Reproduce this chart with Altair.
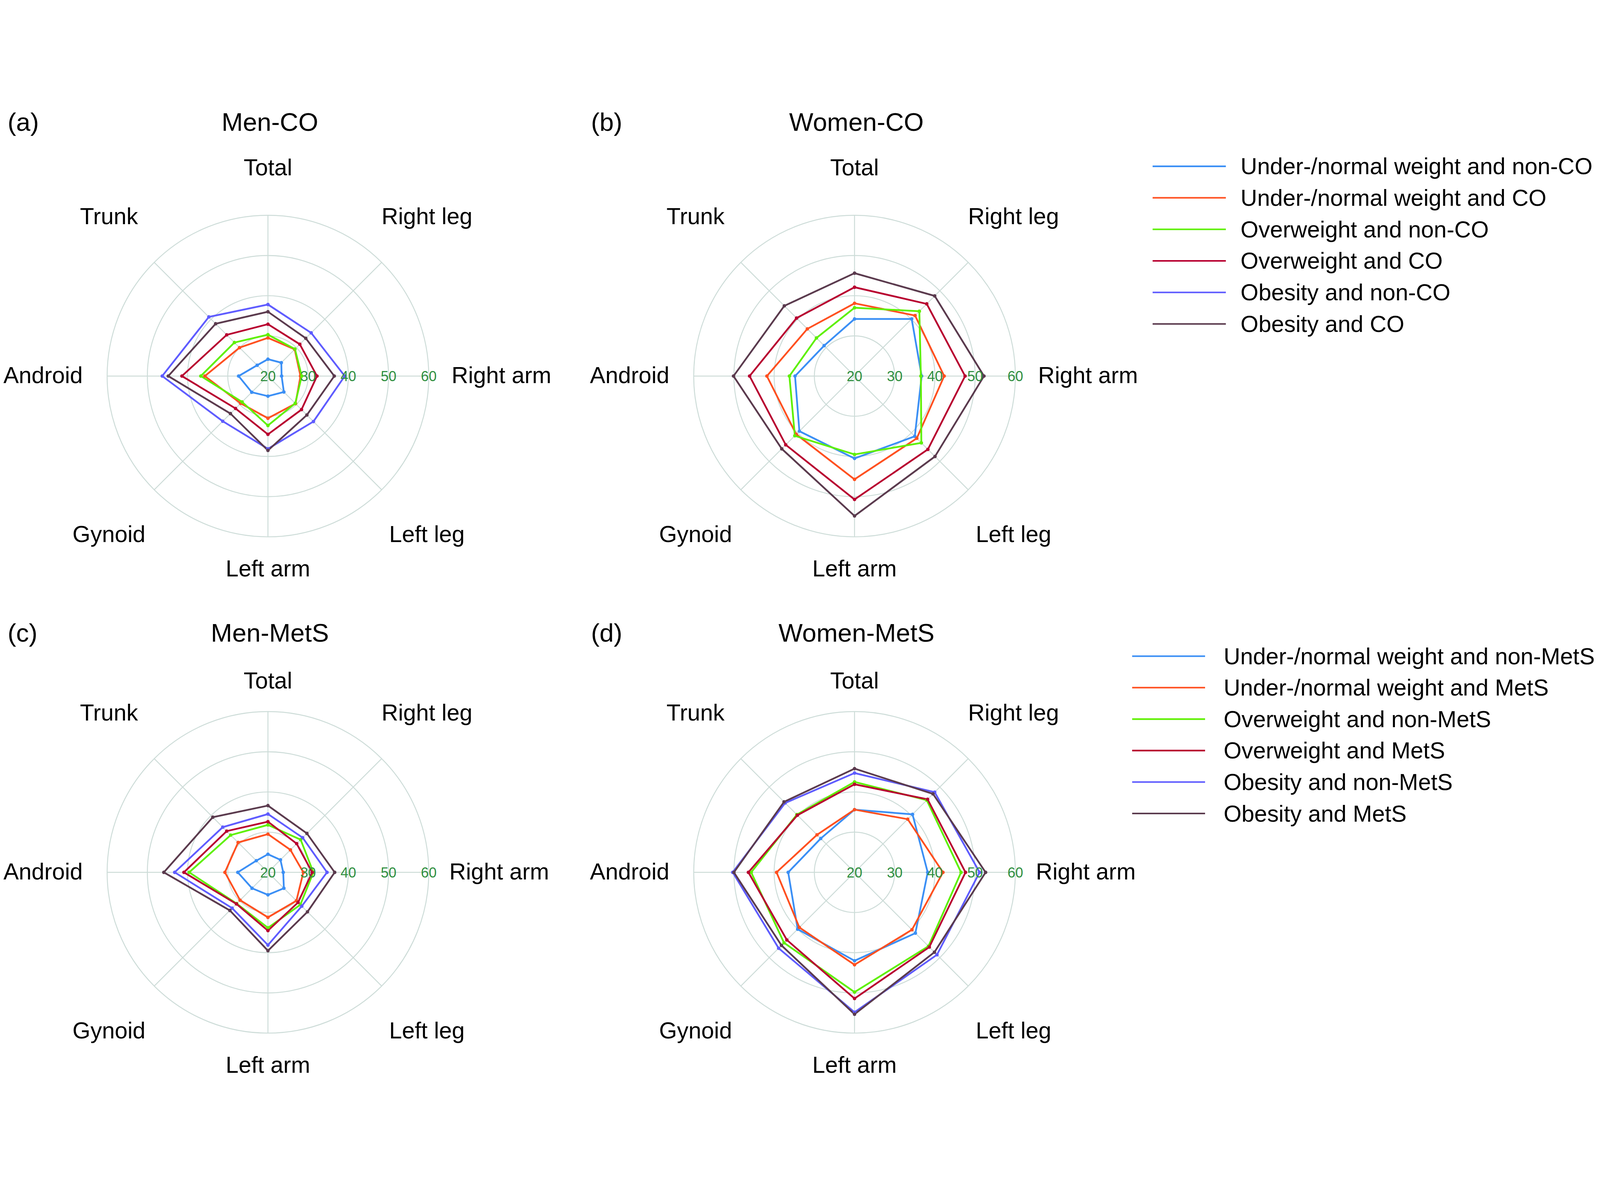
import math
import altair as alt
import pandas as pd

# ---------------- data ----------------
AXES = ["Total", "Right leg", "Right arm", "Left leg", "Left arm", "Gynoid", "Android", "Trunk"]
TICKS = [20, 30, 40, 50, 60]

NAMES_CO = ["Under-/normal weight and non-CO", "Under-/normal weight and CO",
            "Overweight and non-CO", "Overweight and CO",
            "Obesity and non-CO", "Obesity and CO"]
NAMES_METS = ["Under-/normal weight and non-MetS", "Under-/normal weight and MetS",
              "Overweight and non-MetS", "Overweight and MetS",
              "Obesity and non-MetS", "Obesity and MetS"]

# values in axis order: Total, Right leg, Right arm, Left leg, Left arm, Gynoid, Android, Trunk
men_co = [
    [24.2, 24.7, 23.4, 25.6, 25.0, 25.7, 27.3, 23.8],
    [29.5, 29.4, 28.1, 29.7, 30.5, 29.6, 35.7, 30.0],
    [30.3, 29.5, 28.4, 29.6, 32.3, 29.1, 36.7, 31.8],
    [32.9, 31.2, 32.2, 31.8, 34.5, 31.4, 41.4, 34.5],
    [37.8, 35.2, 39.1, 36.0, 38.1, 35.9, 46.3, 40.8],
    [36.0, 33.3, 36.5, 33.7, 38.5, 33.2, 44.8, 38.4],
]
women_co = [
    [34.2, 40.1, 36.7, 41.2, 40.5, 39.4, 34.8, 30.7],
    [38.1, 41.3, 42.3, 41.9, 45.7, 40.5, 41.8, 36.6],
    [37.0, 42.8, 36.5, 43.5, 39.5, 41.0, 36.2, 33.4],
    [42.1, 45.4, 47.5, 45.8, 50.7, 44.2, 46.1, 40.4],
    None,
    [45.6, 48.2, 52.2, 48.3, 54.8, 45.6, 50.1, 44.7],
]
men_mets = [
    [24.5, 24.4, 23.8, 25.6, 25.6, 25.6, 27.5, 24.1],
    [29.5, 27.9, 28.8, 30.0, 31.2, 29.8, 30.7, 30.5],
    [31.8, 31.5, 31.3, 31.4, 33.8, 31.0, 39.6, 33.1],
    [32.6, 30.1, 31.0, 30.6, 34.5, 31.1, 40.9, 34.5],
    [34.5, 32.2, 34.7, 31.9, 38.1, 32.6, 43.2, 35.9],
    [36.6, 33.7, 36.6, 33.9, 39.5, 33.4, 45.9, 39.4],
]
women_mets = [
    [35.6, 40.4, 38.2, 41.4, 42.0, 40.0, 36.5, 31.9],
    [35.6, 38.7, 42.0, 40.2, 43.0, 39.4, 39.4, 33.2],
    [42.5, 45.4, 46.5, 46.0, 49.8, 44.8, 45.7, 40.3],
    [41.9, 45.7, 47.6, 46.3, 51.4, 43.8, 46.4, 40.1],
    [44.7, 48.2, 51.1, 49.0, 54.8, 46.7, 50.3, 44.4],
    [45.8, 47.6, 52.6, 48.1, 55.3, 45.7, 50.0, 44.8],
]

# ---------------- style ----------------
COLORS = ["#3b8ff5", "#ff5020", "#5ef000", "#b80030", "#5f5cff", "#5b3b4e"]
WIDTHS = [5.5, 5.5, 7.5, 5.5, 5.5, 5.5]
GRID = "#cddcd8"
TICKCOL = "#2f8f3f"
FONT = "Liberation Sans"
K = 502.8 / (TICKS[-1] - TICKS[0])     # pixels per unit of radius
LO = TICKS[0]
SPAN = TICKS[-1] - TICKS[0]

W1, W2, W3 = 1820, 1672, 1486
H1, H2 = 1552, 1474
DIAG = 703
LABEL_R_ROW1 = [650, DIAG, 574, DIAG, 605, DIAG, 579, DIAG]
LABEL_R_ROW2 = [597, DIAG, 567, DIAG, 605, DIAG, 579, DIAG]
LABEL_ALIGN = ["center", "center", "left", "center", "center", "center", "right", "center"]


def series_df(values, names):
    rows = []
    for s, vals in enumerate(values):
        if vals is None:
            continue
        for i in range(len(AXES) + 1):
            rows.append({"series": names[s], "sidx": s, "idx": i,
                         "axis": AXES[i % len(AXES)], "value": vals[i % len(AXES)]})
    return pd.DataFrame(rows)


def panel(values, names, letter, title, W, H, cx, cy, label_r, title_y, letter_x):
    xs = alt.Scale(domain=[-cx / K, (W - cx) / K], nice=False, zero=False)
    ys = alt.Scale(domain=[-(H - cy) / K, cy / K], nice=False, zero=False)
    color = alt.Color("series:N", scale=alt.Scale(domain=names, range=COLORS), legend=None)

    # rings (circle symbols whose diameter follows the radial unit)
    rings = pd.DataFrame({"rr": [t - LO for t in TICKS[1:]], "zero": 0.0})
    ring_layer = alt.Chart(rings).transform_calculate(
        sz=f"pow(2*datum.rr*{K}, 2)"
    ).mark_point(shape="circle", filled=False, color=GRID, strokeWidth=3, opacity=1).encode(
        x=alt.X("zero:Q", scale=xs, axis=None),
        y=alt.Y("zero:Q", scale=ys, axis=None),
        size=alt.Size("sz:Q", scale=None),
    )

    # spokes
    spokes = pd.DataFrame({"idx": list(range(len(AXES))), "zero": 0.0})
    spoke_layer = alt.Chart(spokes).transform_calculate(
        ex=f"{SPAN}*sin(datum.idx*PI/4)", ey=f"{SPAN}*cos(datum.idx*PI/4)"
    ).mark_rule(color=GRID, strokeWidth=3).encode(
        x=alt.X("zero:Q", scale=xs, axis=None),
        y=alt.Y("zero:Q", scale=ys, axis=None),
        x2="ex:Q", y2="ey:Q",
    )

    df = series_df(values, names)
    base = alt.Chart(df).transform_calculate(
        px=f"(datum.value-{LO})*sin(datum.idx*PI/4)",
        py=f"(datum.value-{LO})*cos(datum.idx*PI/4)",
    )
    line_layer = base.mark_line(strokeJoin="round").encode(
        x=alt.X("px:Q", scale=xs, axis=None),
        y=alt.Y("py:Q", scale=ys, axis=None),
        color=color,
        strokeWidth=alt.StrokeWidth("series:N", scale=alt.Scale(domain=names, range=WIDTHS), legend=None),
        order="idx:Q",
    )
    point_layer = base.transform_filter("datum.idx < 8").mark_point(
        filled=True, size=120, opacity=1, shape="circle"
    ).encode(
        x=alt.X("px:Q", scale=xs, axis=None),
        y=alt.Y("py:Q", scale=ys, axis=None),
        color=color,
    )

    # radial tick labels along the right-arm axis
    ticks = pd.DataFrame({"t": TICKS, "zero": 0.0})
    tick_layer = alt.Chart(ticks).transform_calculate(
        tx=f"datum.t-{LO}", lab="''+datum.t"
    ).mark_text(font=FONT, fontSize=44, color=TICKCOL, align="center", baseline="middle", dy=3).encode(
        x=alt.X("tx:Q", scale=xs, axis=None),
        y=alt.Y("zero:Q", scale=ys, axis=None),
        text="lab:N",
    )

    # axis labels
    lab_df = pd.DataFrame({"axis": AXES, "idx": list(range(len(AXES))),
                           "lr": [r / K for r in label_r], "al": LABEL_ALIGN})
    label_layers = []
    for al in ["center", "left", "right"]:
        label_layers.append(
            alt.Chart(lab_df).transform_filter(f"datum.al == '{al}'").transform_calculate(
                lx="datum.lr*sin(datum.idx*PI/4)", ly="datum.lr*cos(datum.idx*PI/4)"
            ).mark_text(font=FONT, fontSize=72, color="black", align=al, baseline="middle").encode(
                x=alt.X("lx:Q", scale=xs, axis=None),
                y=alt.Y("ly:Q", scale=ys, axis=None),
                text="axis:N",
            )
        )

    tdf = pd.DataFrame({"letter": [letter], "title": [title]})
    letter_layer = alt.Chart(tdf).mark_text(
        font=FONT, fontSize=80, color="black", align="left", baseline="middle"
    ).encode(x=alt.value(letter_x), y=alt.value(title_y), text="letter:N")
    title_layer = alt.Chart(tdf).mark_text(
        font=FONT, fontSize=80, color="black", align="center", baseline="middle"
    ).encode(x=alt.value(cx + 6), y=alt.value(title_y), text="title:N")

    return alt.layer(
        ring_layer, spoke_layer, line_layer, point_layer, tick_layer,
        *label_layers, letter_layer, title_layer
    ).properties(width=W, height=H)


def legend(names, W, H, y0, sp, x1, x2, tx):
    ldf = pd.DataFrame({"name": names, "idx": list(range(len(names)))})
    ys = alt.Scale(domain=[-y0 / sp, (H - y0) / sp], reverse=True, nice=False, zero=False)
    color = alt.Color("name:N", scale=alt.Scale(domain=names, range=COLORS), legend=None)
    rules = alt.Chart(ldf).mark_rule(strokeWidth=5).encode(
        x=alt.value(x1), x2=alt.value(x2),
        y=alt.Y("idx:Q", scale=ys, axis=None), color=color,
    )
    texts = alt.Chart(ldf).mark_text(
        font=FONT, fontSize=72, color="black", align="left", baseline="middle", dy=3
    ).encode(x=alt.value(tx), y=alt.Y("idx:Q", scale=ys, axis=None), text="name:N")
    return alt.layer(rules, texts).properties(width=W, height=H)


CY1 = 835 - 8
CY2 = 2387 - 8 - H1
CX1 = 831 - 8
CX2 = 2665 - 8 - W1
LEG_X0 = 8 + W1 + W2

pa = panel(men_co, NAMES_CO, "(a)", "Men-CO", W1, H1, CX1, CY1, LABEL_R_ROW1, 36, 9)
pb = panel(women_co, NAMES_CO, "(b)", "Women-CO", W2, H1, CX2, CY1, LABEL_R_ROW1, 36, 13)
pc = panel(men_mets, NAMES_METS, "(c)", "Men-MetS", W1, H2, CX1, CY2, LABEL_R_ROW2, 82, 9)
pd_ = panel(women_mets, NAMES_METS, "(d)", "Women-MetS", W2, H2, CX2, CY2, LABEL_R_ROW2, 82, 13)

leg1 = legend(NAMES_CO, W3, H1, 179 - 8, 98.6, 3597 - LEG_X0, 3826 - LEG_X0, 3872 - LEG_X0)
leg2 = legend(NAMES_METS, W3, H2, 1711 - 8 - H1, 98.4, 3533 - LEG_X0, 3761 - LEG_X0, 3819 - LEG_X0)

chart = alt.concat(pa, pb, leg1, pc, pd_, leg2, columns=3, spacing=0, bounds="flush").properties(
    padding=0
).configure_view(stroke=None)

chart.save("out.html", embed_options={"renderer": "svg", "actions": False})
